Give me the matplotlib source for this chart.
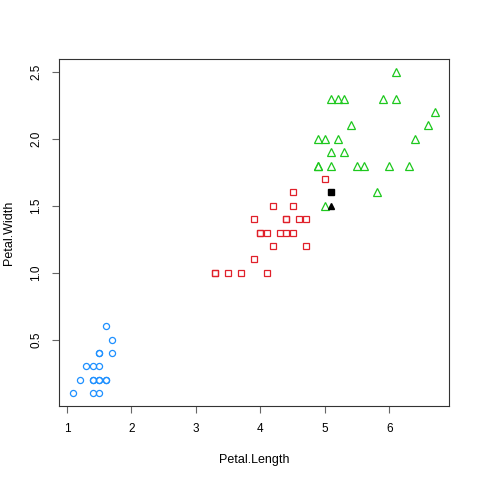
import matplotlib
matplotlib.use("Agg")
import matplotlib.pyplot as plt

plt.rcParams["font.family"] = ["Liberation Sans", "DejaVu Sans"]

# setosa (blue circles)
setosa_len = [1.6, 1.7, 1.5, 1.5, 1.7, 1.3, 1.4, 1.5, 1.2, 1.4, 1.4, 1.5, 1.5, 1.6, 1.6, 1.1, 1.4, 1.5]
setosa_wid = [0.6, 0.5, 0.4, 0.4, 0.4, 0.3, 0.3, 0.3, 0.2, 0.2, 0.2, 0.2, 0.2, 0.2, 0.2, 0.1, 0.1, 0.1]

# versicolor (red squares)
versi_len = [5.0, 4.5, 4.2, 4.5, 3.9, 4.4, 4.4, 4.6, 4.7, 4.0, 4.0, 4.1, 4.3, 4.4, 4.5,
             4.2, 4.7, 3.9, 3.3, 3.3, 3.5, 3.7, 4.1]
versi_wid = [1.7, 1.6, 1.5, 1.5, 1.4, 1.4, 1.4, 1.4, 1.4, 1.3, 1.3, 1.3, 1.3, 1.3, 1.3,
             1.2, 1.2, 1.1, 1.0, 1.0, 1.0, 1.0, 1.0]

# virginica (green triangles)
virg_len = [6.1, 5.1, 5.2, 5.3, 5.9, 6.1, 6.7, 5.4, 6.6, 4.9, 5.0, 5.2, 6.4, 5.1, 5.3,
            4.9, 4.9, 5.1, 5.5, 5.6, 6.0, 6.3, 5.8, 5.0]
virg_wid = [2.5, 2.3, 2.3, 2.3, 2.3, 2.3, 2.2, 2.1, 2.1, 2.0, 2.0, 2.0, 2.0, 1.9, 1.9,
            1.8, 1.8, 1.8, 1.8, 1.8, 1.8, 1.8, 1.6, 1.5]

# new points (black, filled)
new_sq = (5.1, 1.6)
new_tri = (5.1, 1.5)

fig = plt.figure(figsize=(4.8, 4.8), dpi=100)
ax = fig.add_axes([59 / 480, 74 / 480, 390 / 480, 347 / 480])

ax.plot(setosa_len, setosa_wid, "o", ms=4.4, mfc="none", mec="#1E90FF", mew=0.9)
ax.plot(versi_len, versi_wid, "s", ms=4.4, mfc="none", mec="#E0202A", mew=0.9)
ax.plot(virg_len, virg_wid, "^", ms=5.2, mfc="none", mec="#1EC81E", mew=0.9)
ax.plot([new_sq[0]], [new_sq[1]], "s", ms=4.0, color="black")
ax.plot([new_tri[0]], [new_tri[1]], "^", ms=4.6, color="black")

ax.set_xlim(0.876, 6.924)
ax.set_ylim(0.004, 2.596)
ax.set_xticks([1, 2, 3, 4, 5, 6])
ax.set_xticklabels(["1", "2", "3", "4", "5", "6"])
ax.set_yticks([0.5, 1.0, 1.5, 2.0, 2.5])
ax.set_yticklabels(["0.5", "1.0", "1.5", "2.0", "2.5"], rotation=90, va="center")

ax.tick_params(length=5, width=0.8, color="#666666", labelsize=8.5, pad=7)
for s in ax.spines.values():
    s.set_linewidth(0.8)
    s.set_color("#333333")

ax.set_xlabel("Petal.Length", fontsize=9, labelpad=14)
ax.set_ylabel("Petal.Width", fontsize=9, labelpad=11)

fig.savefig("out.png", dpi=100, facecolor="white")
